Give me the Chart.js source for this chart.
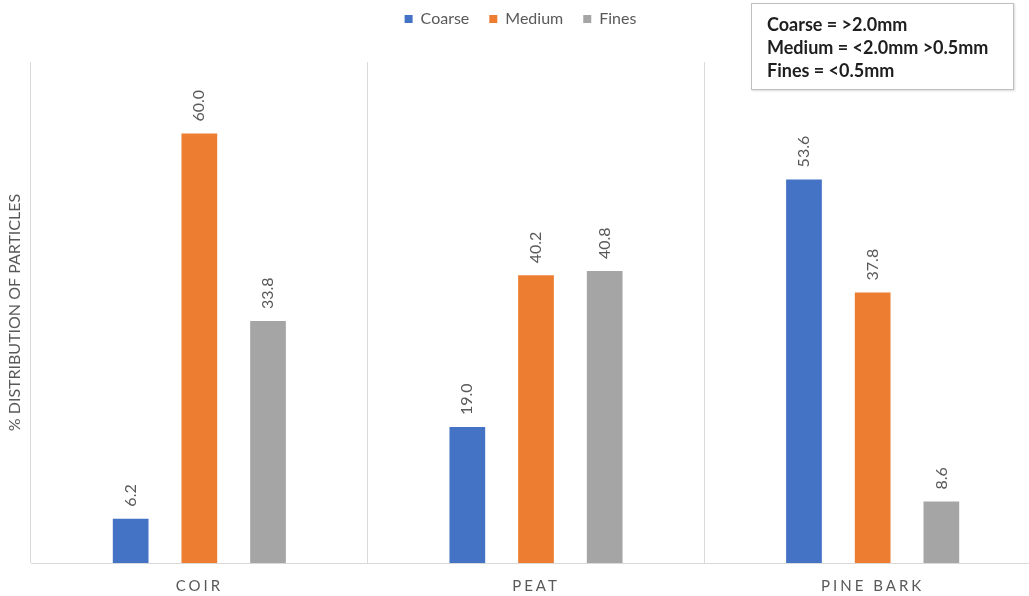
<!DOCTYPE html>
<html>
<head>
<meta charset="utf-8">
<script src="https://cdn.jsdelivr.net/npm/chart.js@4"></script>
<style>
  html, body { margin: 0; padding: 0; background: #fff; overflow: hidden; }
  #wrap { position: relative; width: 1029px; height: 596px; overflow: hidden; }
  #chart { position: absolute; left: 0; top: 0; }
  #note {
    position: absolute; left: 751px; top: 3px; width: 263px; height: 87px;
    border: 1px solid #bfbfbf; box-shadow: 1px 1px 2px rgba(0,0,0,0.15);
    font-family: Lato, "Open Sans", sans-serif; font-weight: bold; font-size: 18px;
    color: #1e1e1e; background: #fff; box-sizing: border-box; padding: 9px 0 0 15px;
    line-height: 23px;
  }
</style>
</head>
<body>
<div id="wrap">
  <canvas id="chart" width="1041" height="596"></canvas>
  <div id="note">Coarse = &gt;2.0mm<br>Medium = &lt;2.0mm &gt;0.5mm<br>Fines = &lt;0.5mm</div>
</div>
<script>
// Data
const categories = ["COIR", "PEAT", "PINE BARK"];
const coarse = [6.2, 19.0, 53.6];
const medium = [60.0, 40.2, 37.8];
const fines = [33.8, 40.8, 8.6];

const FONT = "Lato, 'Open Sans', sans-serif";
const GREY_TEXT = "#595959";

// value labels, rotated like the original
const valueLabels = {
  id: "valueLabels",
  afterDatasetsDraw(chart) {
    const ctx = chart.ctx;
    ctx.save();
    ctx.font = "16px " + FONT;
    ctx.fillStyle = GREY_TEXT;
    ctx.textAlign = "left";
    ctx.textBaseline = "middle";
    chart.data.datasets.forEach((ds, i) => {
      chart.getDatasetMeta(i).data.forEach((bar, j) => {
        ctx.save();
        ctx.translate(bar.x, bar.y - 12);
        ctx.rotate(-Math.PI / 2);
        ctx.fillText(ds.data[j].toFixed(1), 0, 0);
        ctx.restore();
      });
    });
    ctx.restore();
  }
};

// legend sits higher than chart.js would put it, category labels are letter-spaced
const layoutTweaks = {
  id: "layoutTweaks",
  beforeInit(chart) {
    const fit = chart.legend.fit;
    chart.legend.fit = function () {
      fit.bind(chart.legend)();
      this.height = 62;
    };
  },
  afterLayout(chart) {
    chart.legend.top = -9;
    const x = chart.scales.x;
    if (!x._spaced) {
      const draw = x.drawLabels;
      x.drawLabels = function (area) {
        this.ctx.save();
        this.ctx.letterSpacing = "3px";
        draw.call(this, area);
        this.ctx.restore();
      };
      x._spaced = true;
    }
  }
};

new Chart(document.getElementById("chart"), {
  type: "bar",
  data: {
    labels: categories,
    datasets: [
      { label: "Coarse", data: coarse, backgroundColor: "#4472C4" },
      { label: "Medium", data: medium, backgroundColor: "#ED7D31" },
      { label: "Fines", data: fines, backgroundColor: "#A5A5A5" }
    ]
  },
  options: {
    responsive: false,
    animation: false,
    layout: { padding: 0 },
    datasets: { bar: { categoryPercentage: 0.612, barPercentage: 0.52 } },
    plugins: {
      legend: {
        position: "top",
        labels: {
          boxWidth: 8, boxHeight: 8, padding: 20,
          color: GREY_TEXT, font: { family: FONT, size: 16 }
        }
      },
      tooltip: { enabled: false }
    },
    scales: {
      x: {
        offset: true,
        grid: {
          offset: true, drawTicks: false,
          color: (c) => (c.index === categories.length ? "rgba(0,0,0,0)" : "#d9d9d9")
        },
        border: { color: "#d9d9d9" },
        ticks: {
          color: GREY_TEXT, padding: 14, font: { family: FONT, size: 15 }
        },
        afterFit(scale) { scale.height = 33; }
      },
      y: {
        min: 0, max: 70,
        ticks: { display: false },
        grid: { display: false },
        border: { display: false },
        title: {
          display: true, text: "% DISTRIBUTION OF PARTICLES",
          color: GREY_TEXT, font: { family: FONT, size: 16 }, padding: { top: 5, bottom: 0 }
        },
        afterFit(scale) { scale.width = 31; }
      }
    }
  },
  plugins: [valueLabels, layoutTweaks]
});
</script>
</body>
</html>
